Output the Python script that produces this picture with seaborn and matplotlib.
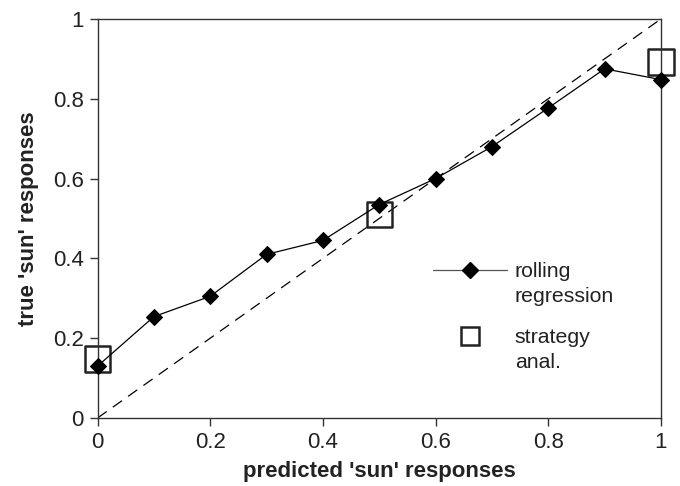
import numpy as np
import pandas as pd
import seaborn as sns
import matplotlib
matplotlib.use("Agg")
import matplotlib.pyplot as plt
from matplotlib.lines import Line2D

# data
pred_rolling = [0.0, 0.1, 0.2, 0.3, 0.4, 0.5, 0.6, 0.7, 0.8, 0.9, 1.0]
true_rolling = [0.13, 0.254, 0.305, 0.41, 0.445, 0.535, 0.60, 0.68, 0.777, 0.875, 0.848]
pred_strategy = [0.0, 0.5, 1.0]
true_strategy = [0.148, 0.51, 0.892]
ticks = [0, 0.2, 0.4, 0.6, 0.8, 1]
tick_labels = ["0", "0.2", "0.4", "0.6", "0.8", "1"]

sns.set_style("ticks")
plt.rcParams['font.family'] = ['Liberation Sans', 'DejaVu Sans']

fig = plt.figure(figsize=(6.8, 4.86), dpi=100)
ax = fig.add_axes([0.1434, 0.1399, 0.972 - 0.1434, 0.961 - 0.1399])

df_r = pd.DataFrame({"x": pred_rolling, "y": true_rolling})
df_s = pd.DataFrame({"x": pred_strategy, "y": true_strategy})

# diagonal reference
ax.plot([0, 1], [0, 1], color="black", lw=0.9, dashes=(9, 6), zorder=1)

sns.lineplot(data=df_r, x="x", y="y", ax=ax, color="black", lw=0.9,
             marker="D", markersize=8.5, markeredgecolor="black",
             markerfacecolor="black", zorder=3, clip_on=False)
sns.scatterplot(data=df_s, x="x", y="y", ax=ax, marker="s", s=330,
                facecolor="none", edgecolor="#222222", linewidth=1.8,
                zorder=2, clip_on=False)

ax.set_xlim(0, 1)
ax.set_ylim(0, 1)
ax.set_xticks(ticks)
ax.set_xticklabels(tick_labels)
ax.set_yticks(ticks)
ax.set_yticklabels(tick_labels)
ax.tick_params(axis="both", direction="out", length=6, width=1,
               color="#333333", labelsize=16, labelcolor="#222222", pad=4)
for s in ax.spines.values():
    s.set_visible(True)
    s.set_color("#333333")
    s.set_linewidth(1.0)

ax.set_xlabel("predicted 'sun' responses", fontsize=16, fontweight="bold",
              color="#222222", labelpad=6)
ax.set_ylabel("true 'sun' responses", fontsize=16, fontweight="bold",
              color="#222222", labelpad=10)

blank = Line2D([0], [0], color="none")
h_line = Line2D([0], [0], color="#555555", lw=0.9, marker="D", markersize=8.5,
                markerfacecolor="black", markeredgecolor="black")
h_sq = Line2D([0], [0], color="none", marker="s", markersize=13,
              markerfacecolor="none", markeredgecolor="#222222", markeredgewidth=1.8)

common = dict(frameon=False, fontsize=15.3, handlelength=3.48, handletextpad=0.38,
              labelspacing=0.28, borderpad=0, borderaxespad=0, labelcolor="#222222",
              loc="upper left")
leg1 = ax.legend([h_line, blank], ["rolling", "regression"],
                 bbox_to_anchor=(0.595, 0.39), **common)
ax.add_artist(leg1)
ax.legend([h_sq, blank], ["strategy", "anal."],
          bbox_to_anchor=(0.595, 0.225), **common)

fig.savefig("out.png", dpi=100)
